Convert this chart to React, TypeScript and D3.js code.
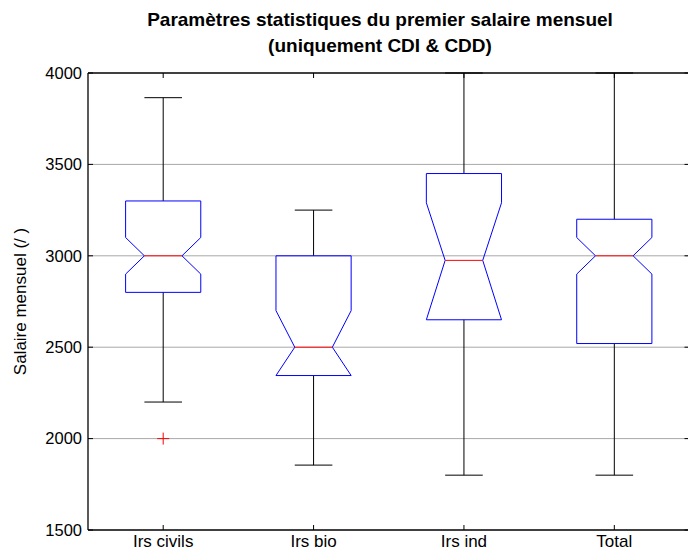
import * as d3 from "d3";

const categories = ["Irs civils", "Irs bio", "Irs ind", "Total"];
const whiskerLow = [2200, 1855, 1800, 1800];
const q1 = [2800, 2345, 2650, 2520];
const notchLow = [2900, 2345, 2650, 2900];
const median = [3000, 2500, 2975, 3000];
const notchHigh = [3100, 2700, 3290, 3100];
const q3 = [3300, 3000, 3450, 3200];
const whiskerHigh = [3865, 3250, 4000, 4000];
const outliers = [[2000], [], [], []];
const yTicks = [1500, 2000, 2500, 3000, 3500, 4000];

const W = 688;
const H = 554;
const left = 88;
const right = 689.5;
const top = 73;
const bottom = 530;

export default function App() {
  const x = d3.scaleLinear().domain([0.5, 4.5]).range([left, right]);
  const y = d3.scaleLinear().domain([1500, 4000]).range([bottom, top]);
  const half = 0.25;
  const font = "'Liberation Sans', Arial, Helvetica, sans-serif";

  const boxPath = (i: number) => {
    const c = i + 1;
    const pts: [number, number][] = [
      [c - half, q3[i]],
      [c + half, q3[i]],
      [c + half, notchHigh[i]],
      [c + half / 2, median[i]],
      [c + half, notchLow[i]],
      [c + half, q1[i]],
      [c - half, q1[i]],
      [c - half, notchLow[i]],
      [c - half / 2, median[i]],
      [c - half, notchHigh[i]],
    ];
    const line = d3
      .line<[number, number]>()
      .x((d) => x(d[0]))
      .y((d) => y(d[1]));
    return line(pts) + "Z";
  };

  return (
    <svg
      width={W}
      height={H}
      style={{ position: "absolute", left: 0, top: 0, background: "#fff" }}
      fontFamily={font}
    >
      <rect x={0} y={0} width={W} height={H} fill="#fff" />

      {/* grid */}
      {yTicks
        .filter((t) => t > 1500 && t < 4000)
        .map((t) => (
          <line key={"g" + t} x1={left} x2={right} y1={y(t)} y2={y(t)} stroke="#a8a8a8" strokeWidth={1} />
        ))}

      {/* boxes */}
      {categories.map((cat, i) => {
        const cx = x(i + 1);
        const capL = x(i + 1 - half / 2);
        const capR = x(i + 1 + half / 2);
        const medL = x(i + 1 - half / 2);
        const medR = x(i + 1 + half / 2);
        return (
          <g key={cat}>
            <line x1={cx} x2={cx} y1={y(whiskerHigh[i])} y2={y(q3[i])} stroke="#000" strokeWidth={1} />
            <line x1={cx} x2={cx} y1={y(q1[i])} y2={y(whiskerLow[i])} stroke="#000" strokeWidth={1} />
            <line x1={capL} x2={capR} y1={y(whiskerHigh[i])} y2={y(whiskerHigh[i])} stroke="#000" strokeWidth={1} />
            <line x1={capL} x2={capR} y1={y(whiskerLow[i])} y2={y(whiskerLow[i])} stroke="#000" strokeWidth={1} />
            <path d={boxPath(i)} fill="none" stroke="#0000ff" strokeWidth={1} />
            <line x1={medL} x2={medR} y1={y(median[i])} y2={y(median[i])} stroke="#ff0000" strokeWidth={1} />
            {outliers[i].map((o, j) => (
              <g key={j} stroke="#ff0000" strokeWidth={1}>
                <line x1={cx - 6} x2={cx + 6} y1={y(o)} y2={y(o)} />
                <line x1={cx} x2={cx} y1={y(o) - 6} y2={y(o) + 6} />
              </g>
            ))}
          </g>
        );
      })}

      {/* frame */}
      <line x1={left} x2={right} y1={top} y2={top} stroke="#000" strokeWidth={1.3} />
      <line x1={left} x2={right} y1={bottom} y2={bottom} stroke="#000" strokeWidth={1.3} />
      <line x1={left} x2={left} y1={top} y2={bottom} stroke="#000" strokeWidth={1.3} />
      <line x1={right} x2={right} y1={top} y2={bottom} stroke="#000" strokeWidth={1.3} />

      {/* y ticks */}
      {yTicks.map((t) => (
        <g key={"t" + t}>
          <line x1={left} x2={left + 5} y1={y(t)} y2={y(t)} stroke="#000" />
          <line x1={right - 5} x2={right} y1={y(t)} y2={y(t)} stroke="#000" />
          <text x={left - 6} y={y(t)} dy="0.35em" textAnchor="end" fontSize={16.5}>
            {t}
          </text>
        </g>
      ))}

      {/* x ticks */}
      {categories.map((cat, i) => (
        <g key={"x" + cat}>
          <line x1={x(i + 1)} x2={x(i + 1)} y1={bottom} y2={bottom - 5} stroke="#000" />
          <line x1={x(i + 1)} x2={x(i + 1)} y1={top} y2={top + 5} stroke="#000" />
          <text x={x(i + 1)} y={547} textAnchor="middle" fontSize={17}>
            {cat}
          </text>
        </g>
      ))}

      <text transform={`translate(26,${(top + bottom) / 2}) rotate(-90)`} textAnchor="middle" fontSize={17}>
        Salaire mensuel (/ )
      </text>

      <text x={380} y={26} textAnchor="middle" fontSize={19} fontWeight="bold">
        Paramètres statistiques du premier salaire mensuel
      </text>
      <text x={380} y={52} textAnchor="middle" fontSize={19} fontWeight="bold">
        (uniquement CDI &amp; CDD)
      </text>
    </svg>
  );
}
